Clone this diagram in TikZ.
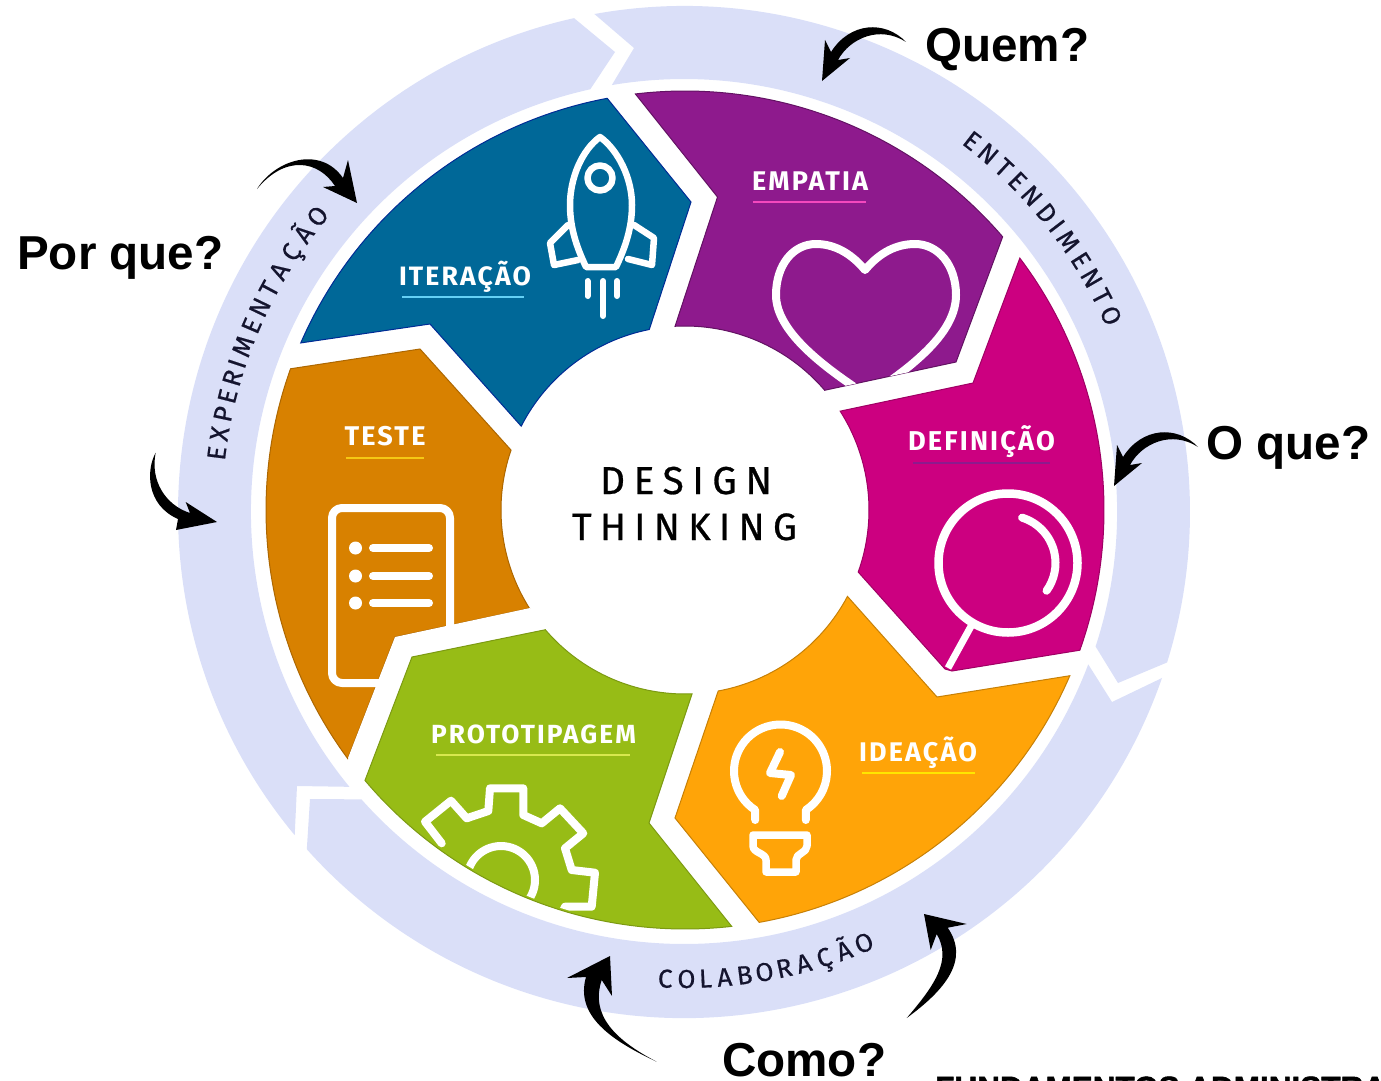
\documentclass[tikz,border=0pt]{standalone}
\usepackage{fontspec}
\usepackage{graphicx}
\newfontfamily\labf[LetterSpace=8]{Fira Sans}
\newfontfamily\titf[LetterSpace=22,FakeBold=0.7]{Fira Sans}
\newfontfamily\bandf[FakeBold=0.6]{Fira Sans}
\newfontfamily\qf{Liberation Sans}
\newfontfamily\qfh[BoldFont={Liberation Sans Bold},BoldFeatures={FakeBold=1.6}]{Liberation Sans}
\definecolor{bandc}{HTML}{DADFF8}
\definecolor{cblue}{HTML}{006898}
\definecolor{cpurple}{HTML}{8E1A8D}
\definecolor{cmag}{HTML}{CC0080}
\definecolor{cyel}{HTML}{FFA408}
\definecolor{cgreen}{HTML}{97BC16}
\definecolor{cbrown}{HTML}{D88100}
\definecolor{inkc}{HTML}{14142E}
\tikzset{
  seg/.style={line width=1pt,line join=miter},
  icon/.style={draw=white,line width=#1,line cap=round,line join=round},
  icon/.default=8pt,
  bigq/.style={anchor=base west,inner sep=0pt,font=\qf\bfseries\fontsize{47.6}{47.6}\selectfont,text=black},
  ul/.style={line width=1.6pt}
}
\newcommand{\seglab}[5]{\node[anchor=base,inner sep=0pt,text=white] (#1) at (#2,#3) {\resizebox{#4pt}{!}{\labf\bfseries\fontsize{24}{24}\selectfont #5}};}
\newcommand{\titlab}[5]{\node[anchor=base,inner sep=0pt,text=black] (#1) at (#2,#3) {\resizebox{#4pt}{!}{\titf\fontsize{42}{42}\selectfont #5}};}
\gdef\curang{0}
\newcommand{\arcword}[5]{%
  \xdef\curang{#2}%
  \foreach \c/\w in {#5}{%
    \pgfmathsetmacro\midang{\curang+#3*\w/2}%
    \pgfmathsetmacro\rot{\midang+#4}%
    \node[anchor=base,inner sep=0pt,text=inkc,rotate=\rot,font=\bandf\fontsize{26}{26}\selectfont] at (\midang:#1pt) {\c};%
    \pgfmathsetmacro\nxtang{\curang+#3*\w}%
    \xdef\curang{\nxtang}%
  }}
\def\gearpath{(441.7,843.3) -- (425,821.7) -- (451,800.7) -- (466.7,818.3) -- (488.3,811) -- (490,788.3) -- (523.3,788.3) -- (523.3,815) -- (541.7,823.3) -- (560,808.3) -- (583.3,833.3) -- (565,848.3) -- (571.7,870) -- (595,872.7) -- (591.7,906.7) -- (565,906.7) -- (560,918)}
\def\quemarrow{(906,42) .. controls (885,20) and (850,22) .. (831,52) -- (825,40) -- (822,81) -- (850,58) -- (838,60) .. controls (850,38) and (880,25) .. (906,42) -- cycle}
\begin{document}
\begin{tikzpicture}[x=1pt,y=-1pt]
\path[use as bounding box] (0,0) rectangle (1381,1081);
\begin{scope}
\clip (0,0) rectangle (1381,1081);
% outer band
\begin{scope}[shift={(684,512)},y=1pt]
\fill[bandc] (100.2:506pt) arc[start angle=100.2,end angle=-17.3,radius=506pt] -- (434,-171) -- (-18.1:433pt) arc[start angle=-18.1,end angle=99.6,radius=433pt] -- (-50,464) -- cycle;
\fill[bandc] (-19.15:506pt) arc[start angle=-19.15,end angle=-138.2,radius=506pt] -- (-374,-287) -- (-138.3:432pt) arc[start angle=-138.3,end angle=-20.65,radius=432pt] -- (428,-190) -- cycle;
\fill[bandc] (219.7:506pt) arc[start angle=219.7,end angle=102.55,radius=506pt] -- (-69,460) -- (102.5:433pt) arc[start angle=102.5,end angle=219.4,radius=433pt] -- (-387,-274) -- cycle;
\arcword{461}{53.3}{-2.79}{-90}{E/.8,N/1,T/.85,E/.8,N/1,D/1,I/.45,M/1.2,E/.8,N/1,T/.85,O/1}
\arcword{462}{173.9}{-2.71}{-90}{E/.8,X/.95,P/.85,E/.8,R/.9,I/.45,M/1.2,E/.8,N/1,T/.85,A/1,Ç/1,Ã/1,O/1}
\arcword{476}{266.4}{2.6}{90}{C/1,O/1,L/.8,A/1,B/.9,O/1,R/.9,A/1,Ç/1,Ã/1,O/1}
\end{scope}
% brown segment and document icon
\begin{scope}[shift={(685,510)},y=1pt]
\filldraw[seg,fill=cbrown,draw=cbrown!80!black] (216.4:419pt) arc[start angle=216.4,end angle=160.3,radius=419pt] -- (-265,161) -- (161:184pt) arc[start angle=161,end angle=212.3,radius=184pt] -- (-290,-127) -- cycle;
\end{scope}
\draw[icon=8pt,rounded corners=10pt] (332,508) rectangle (450,683);
\fill[white] (355.5,548) circle[radius=6.5pt] (355.5,576) circle[radius=6.5pt] (355.5,603) circle[radius=6.5pt];
\draw[icon=8pt] (373,548) -- (429,548) (373,576) -- (429,576) (373,603) -- (429,603);
\begin{scope}[shift={(685,510)},y=1pt]
% gutter between the brown and green segments, hiding the document's lower part
\fill[white] (-290,-127) -- (-155,-98) -- (-140,-120) -- (-273,-147) -- (-320,-270) -- (-337,-248) -- cycle;
% green
\filldraw[seg,fill=cgreen,draw=cgreen!82!black] (276.4:419pt) arc[start angle=276.4,end angle=220.2,radius=419pt] -- (-273,-147) -- (220.6:184pt) arc[start angle=220.6,end angle=272.2,radius=184pt] -- (-36,-313) -- cycle;
% gear clipped to the green segment
\begin{scope}
\clip (276.4:417pt) arc[start angle=276.4,end angle=220.2,radius=417pt] -- (-273,-147) -- (220.6:184pt) arc[start angle=220.6,end angle=272.2,radius=184pt] -- (-36,-313) -- cycle;
\begin{scope}[shift={(-685,510)},y=-1pt]
\draw[icon=8pt] \gearpath;
\draw[icon=8pt] (501,880) circle[radius=34pt];
\end{scope}
\end{scope}
% blue and purple
\filldraw[seg,fill=cblue,draw=blue!45!cblue!75!black] (100.7:419pt) arc[start angle=100.7,end angle=156.5,radius=419pt] -- (-255,186) -- (152.9:184pt) arc[start angle=152.9,end angle=101.2,radius=184pt] -- (6,308) -- cycle;
\filldraw[seg,fill=cpurple,draw=cpurple!70!black] (96.8:419pt) arc[start angle=96.8,end angle=40.7,radius=419pt] -- (271,148) -- (40.6:184pt) arc[start angle=40.6,end angle=93.1,radius=184pt] -- (32.5,313) -- cycle;
% heart clipped to the purple segment
\begin{scope}
\clip (96.8:419pt) arc[start angle=96.8,end angle=40.7,radius=419pt] -- (271,148) -- (40.6:184pt) arc[start angle=40.6,end angle=93.1,radius=184pt] -- (32.5,313) -- cycle;
\begin{scope}[shift={(-685,510)},y=-1pt]
\draw[icon=8pt] (865,270) .. controls (850,252) and (833,244) .. (816,244) .. controls (793,244) and (776,265) .. (776,295) .. controls (776,332) and (825,368) .. (868,396) .. controls (915,365) and (956,332) .. (956,295) .. controls (956,265) and (938,244) .. (915,244) .. controls (897,244) and (880,252) .. (865,270) -- cycle;
\end{scope}
\end{scope}
\end{scope}
% rocket
\draw[icon=6.5pt] (600,137) .. controls (582,150) and (570,178) .. (570,205) .. controls (570,230) and (578,250) .. (586,267) -- (616,267) .. controls (624,250) and (632,230) .. (632,205) .. controls (632,178) and (618,150) .. (600,137) -- cycle;
\draw[icon=6.5pt] (600,178) circle[radius=12.5pt];
\draw[icon=6.5pt] (568,225) -- (550,243) -- (554,265) -- (578,260);
\draw[icon=6.5pt] (634,225) -- (654,238) -- (652,265) -- (628,259);
\draw[icon=6pt] (587.5,281) -- (587.5,296) (603,281) -- (603,316) (617,281) -- (617,296);
% magenta and yellow
\begin{scope}[shift={(685,510)},y=1pt]
\filldraw[seg,fill=cmag,draw=cmag!78!black] (36.95:419pt) arc[start angle=36.95,end angle=-19.55,radius=419pt] -- (267,-161) -- (260,-159) -- (-19.7:184pt) arc[start angle=-19.7,end angle=32.5,radius=184pt] -- (288,127) -- cycle;
\filldraw[seg,fill=cyel,draw=cyel!78!black] (336.7:419pt) arc[start angle=336.7,end angle=280.2,radius=419pt] -- (-10,-308) -- (280.4:184pt) arc[start angle=280.4,end angle=332,radius=184pt] -- (252,-187) -- cycle;
\end{scope}
% magnifier
\draw[icon=8.5pt] (1008,563) circle[radius=69.5pt];
\draw[icon=7pt,line cap=butt] (971.7,625) -- (948,668);
\begin{scope}[shift={(1008,563)},y=1pt]
\draw[icon=8pt] (72.7:47.5pt) arc[start angle=72.7,end angle=-35.7,radius=47.5pt];
\end{scope}
% bulb
\begin{scope}[shift={(780.5,771)},y=1pt]
\draw[icon=8pt] (-25.3,-49) -- (237:46.5pt) arc[start angle=237,end angle=-57,radius=46.5pt] -- (25.3,-49);
\end{scope}
\draw[icon=8pt] (780,752) -- (770,773) -- (791,775) -- (781.7,796);
\draw[icon=7.5pt] (753,835) -- (807,835) -- (807,846) .. controls (807,853) and (796,853) .. (796,860) -- (796,872) -- (766,872) -- (766,860) .. controls (766,853) and (753,853) .. (753,846) -- cycle;
% labels
\seglab{lemp}{810}{190}{116}{EMPATIA}
\draw[ul,color={rgb,255:red,244;green,72;blue,190}] (753,202) -- (866,202);
\seglab{lite}{465}{285}{132}{ITERAÇÃO}
\draw[ul,color={rgb,255:red,100;green,208;blue,245}] (402,297) -- (524,297);
\seglab{ltes}{385}{445}{81}{TESTE}
\draw[ul,color={rgb,255:red,245;green,200;blue,20}] (346,458) -- (423.5,458);
\seglab{ldef}{981.5}{450}{147}{DEFINIÇÃO}
\draw[ul,color=cpurple] (913,463) -- (1050,463);
\seglab{lide}{918}{761}{118}{IDEAÇÃO}
\draw[ul,color={rgb,255:red,255;green,230;blue,0}] (862,773) -- (975,773);
\seglab{lpro}{533.5}{743}{205}{PROTOTIPAGEM}
\draw[ul,color={rgb,255:red,216;green,232;blue,79}] (436,755) -- (630,755);
% title
\titlab{tdes}{686}{494}{172}{DESIGN}
\titlab{tthi}{684.5}{540}{225}{THINKING}
% questions
\node[bigq] (qquem) at (925,62) {Quem?};
\node[bigq] (qpor) at (17,269.5) {Por que?};
\node[bigq] (qoque) at (1206,459) {O que?};
\node[bigq] (qcomo) at (722,1076) {Como?};
\node[anchor=base west,inner sep=0pt,font=\qfh\bfseries\fontsize{31.5}{31.5}\selectfont,text=black] (qfund) at (935,1098.5) {FUNDAMENTOS ADMINISTRAÇÃO};
% swoosh arrows
\fill[black] \quemarrow;
\begin{scope}[shift={(292,405)}]
\fill[black] \quemarrow;
\end{scope}
\fill[black] (257,189) .. controls (275,160) and (320,145) .. (343,178) -- (348,160) -- (357,203) -- (323,187) -- (335,186) .. controls (318,160) and (285,155) .. (257,189) -- cycle;
\fill[black] (155.7,452.7) .. controls (146,470) and (146,505) .. (178,519) -- (176,530) -- (217,522) -- (185.7,502) -- (190,513) .. controls (165,505) and (150,480) .. (155.7,452.7) -- cycle;
\fill[black] (656.7,1061.7) .. controls (610,1040) and (575,1015) .. (586,977) -- (567,978) -- (610,956) -- (612,996) -- (601.7,980) .. controls (590,1015) and (615,1040) .. (656.7,1061.7) -- cycle;
\fill[black] (906.7,1018) .. controls (945,990) and (970,960) .. (947.7,927.7) -- (966.7,924) -- (924,914) -- (930.7,950) -- (936.7,934) .. controls (952,960) and (935,985) .. (906.7,1018) -- cycle;
\end{scope}
\end{tikzpicture}
\end{document}
